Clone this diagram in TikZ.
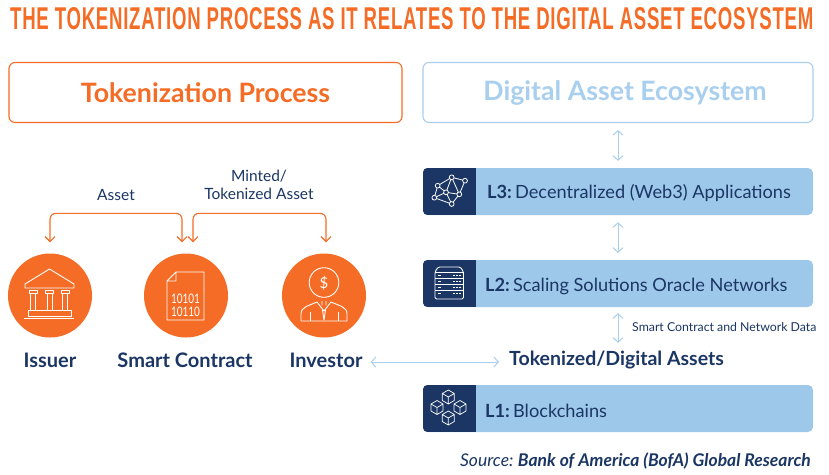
\documentclass[tikz,border=0pt]{standalone}
\usepackage{fontspec}
\setmainfont{Lato}
\newfontfamily\titlefont[LetterSpace=4]{Liberation Sans}
\usetikzlibrary{arrows.meta}
\definecolor{orng}{HTML}{F46C25}
\definecolor{navy}{HTML}{1B3664}
\definecolor{lblue}{HTML}{9DC8EA}
\definecolor{pale}{HTML}{A9CFEE}
\tikzset{
  x=1pt,y=-1pt,
  headbox/.style={draw=#1,line width=1.1pt,rounded corners=6pt,minimum height=60pt,inner sep=0pt,fill=white},
  layerbox/.style={fill=lblue,rounded corners=5pt,minimum width=390pt,minimum height=47pt,inner sep=0pt},
  badge/.style={fill=navy},
  disc/.style={circle,fill=orng,minimum size=84pt,inner sep=0pt},
  orarrow/.style={draw=orng,line width=1.1pt,{Straight Barb[length=5pt,width=10pt]}-{Straight Barb[length=5pt,width=10pt]},rounded corners=6pt},
  blarrow/.style={draw=pale,line width=1pt,{Straight Barb[length=4.5pt,width=10pt]}-{Straight Barb[length=4.5pt,width=10pt]}},
  ico/.style={draw=white,line width=0.9pt,line join=round},
  lbl/.style={text=navy,font=\fontsize{#1}{#1}\selectfont,inner sep=0pt},
  blbl/.style={text=navy,font=\fontsize{#1}{#1}\selectfont\bfseries,inner sep=0pt},
  ltxt/.style={text=navy,font=\fontsize{18.2}{18.2}\selectfont,inner sep=0pt,anchor=west},
}
\newcommand{\cube}[2]{%
  \draw[ico,line width=0.7pt] (#1,#2-7) -- (#1+6,#2-3.5) -- (#1+6,#2+3.5) -- (#1,#2+7) -- (#1-6,#2+3.5) -- (#1-6,#2-3.5) -- cycle
    (#1-6,#2-3.5) -- (#1,#2) -- (#1+6,#2-3.5) (#1,#2) -- (#1,#2+7);}
\begin{document}
\begin{tikzpicture}
\useasboundingbox (0,0) rectangle (829,474);
\fill[white] (0,0) rectangle (829,474);
% title
\node[inner sep=0pt,anchor=west,text=orng] (title) at (10,19) {\resizebox{803pt}{22pt}{\titlefont\bfseries THE TOKENIZATION PROCESS AS IT RELATES TO THE DIGITAL ASSET ECOSYSTEM}};
% headers
\node[headbox=orng,minimum width=393pt,text=orng,font=\fontsize{26.7}{26.7}\selectfont\bfseries] (tp) at (205.5,92.5) {Tokenization Process};
\node[headbox=pale,minimum width=390pt,text=pale,font=\fontsize{26.7}{26.7}\selectfont\bfseries] (eco) at (618,92.5) {\hspace{14pt}Digital Asset Ecosystem};
% layers
\node[layerbox] (l3) at (618,191.5) {};
\node[layerbox] (l2) at (618,283.5) {};
\node[layerbox] (l1) at (618,408.5) {};
\foreach \n in {l3,l2,l1}{
  \begin{scope}
    \clip[rounded corners=5pt] (\n.south west) rectangle (\n.north east);
    \fill[badge] (\n.south west) rectangle ([xshift=53pt]\n.north west);
  \end{scope}
}
\node[ltxt] at (487,193) {\textbf{L3:}\hspace{-3pt} Decentralized (Web3) Applications};
\node[ltxt] at (485,286.5) {\textbf{L2:}\hspace{-3pt} Scaling Solutions Oracle Networks};
\node[ltxt] at (485,411) {\textbf{L1:}\hspace{-3pt} Blockchains};
% discs
\node[disc] (issuer) at (50,295.5) {};
\node[disc] (smart) at (186,295.5) {};
\node[disc] (inv) at (324,295.5) {};
% captions
\node[blbl=20] (cissuer) at (50,360) {Issuer};
\node[blbl=20] (csmart) at (185,360) {Smart Contract};
\node[blbl=20] (cinv) at (326,360) {Investor};
\node[blbl=19.5] (tok) at (616.5,360) {Tokenized/Digital Assets};
\node[lbl=15.5] (asset) at (116,195) {Asset};
\node[lbl=15.5,align=center] (mint) at (259,185) {Minted/\\[3pt]Tokenized Asset};
\node[lbl=12.3,anchor=west] (scnd) at (632,327) {Smart Contract and Network Data};
\node[text=navy,font=\fontsize{17.5}{17.5}\selectfont\itshape,inner sep=0pt,anchor=east] (src) at (811,461) {Source:\hspace{-1pt} \textbf{Bank of America (BofA) Global Research}};
% orange connectors
\draw[orarrow] ([yshift=11pt]issuer.north) -- ++(0,-29) -| ([xshift=-4pt,yshift=11pt]smart.north);
\draw[orarrow] ([xshift=7pt,yshift=11pt]smart.north) -- ++(0,-29) -| ([xshift=2pt,yshift=11pt]inv.north);
% blue connectors
\draw[blarrow,shorten <=7pt,shorten >=7pt] (eco.south) -- (l3.north);
\draw[blarrow,shorten <=7pt,shorten >=7pt] (l3.south) -- (l2.north);
\draw[blarrow] ([yshift=-6pt]l2.south) -- ([yshift=8pt]l2.south |- tok.north);
\draw[blarrow] ([xshift=8pt,yshift=-2pt]cinv.east) -- ([xshift=-10pt,yshift=-2pt]tok.west);
% bank icon
\draw[ico] (25,284) -- (49.5,269) -- (74,284) -- (74,288) -- (25,288) -- cycle;
\foreach \c in {33,49.5,65}{
  \draw[ico] (\c-4,290) rectangle (\c+4,293);
  \draw[ico] (\c-2.5,293) -- (\c-2.5,310) (\c+2.5,293) -- (\c+2.5,310);
  \draw[ico] (\c-4,310) -- (\c+4,310);
}
\draw[ico] (28,310) rectangle (71,316);
\draw[ico] (24,318) -- (74,318);
% contract icon
\draw[ico] (176,272) -- (204,272) -- (204,320) -- (167,320) -- (167,281) -- cycle (176,272) -- (176,281) -- (167,281);
\node[inner sep=0pt,text=white] at (185.5,299) {\resizebox{29pt}{9.5pt}{10101}};
\node[inner sep=0pt,text=white] at (185.5,312) {\resizebox{29pt}{9.5pt}{10110}};
% investor icon
\draw[ico] (324,282.5) circle (14.8);
\node[inner sep=0pt,text=white,font=\fontsize{15}{15}\selectfont] at (324,283) {\$};
\draw[ico] (301,321) -- (347,321) (301,321) -- (301,314) .. controls (301,307) and (308,306) .. (317,302) -- (324,311) -- (331,302) .. controls (340,306) and (347,307) .. (347,314) -- (347,321);
\draw[ico] (310,321) -- (310,312) (338,321) -- (338,312);
\draw[ico] (322,301) -- (322,305) (326,301) -- (326,305) (322.5,310) -- (324,320) -- (325.5,310);
% network icon
\foreach \a/\b/\n in {451.7/177.3/a,465/180.7/b,437.7/185.7/c,459.3/194.3/d,446/192.3/e,434.3/197.7/f,451.7/204/g}{
  \coordinate (\n) at (\a,\b);
}
\draw[ico,line width=0.8pt] (a)--(b)--(d)--(g)--(f)--(c)--(a)--(e)--(c) (a)--(d)--(e)--(f) (e)--(g);
\foreach \n in {a,b,c,d,e,f,g}{\filldraw[ico,line width=0.8pt,fill=navy] (\n) circle (2.4);}
% server icon
\draw[ico,rounded corners=1.5pt] (435,299) -- (435,272) -- (438,267) -- (460.5,267) -- (463.5,272) -- (463.5,299) -- cycle;
\foreach \yy in {272.5,278.5,284.5,290.5}{
  \draw[ico,line width=0.7pt] (435,\yy) -- (463.5,\yy);
  \draw[ico,line width=1pt] (438,\yy+3) -- (441,\yy+3) (453,\yy+3) -- (454.5,\yy+3) (456,\yy+3) -- (457.5,\yy+3) (459,\yy+3) -- (460.5,\yy+3);
}
% chain icon
\cube{448.3}{397}
\cube{437}{407.5}
\cube{460}{407.5}
\cube{448.3}{418}
\end{tikzpicture}
\end{document}
